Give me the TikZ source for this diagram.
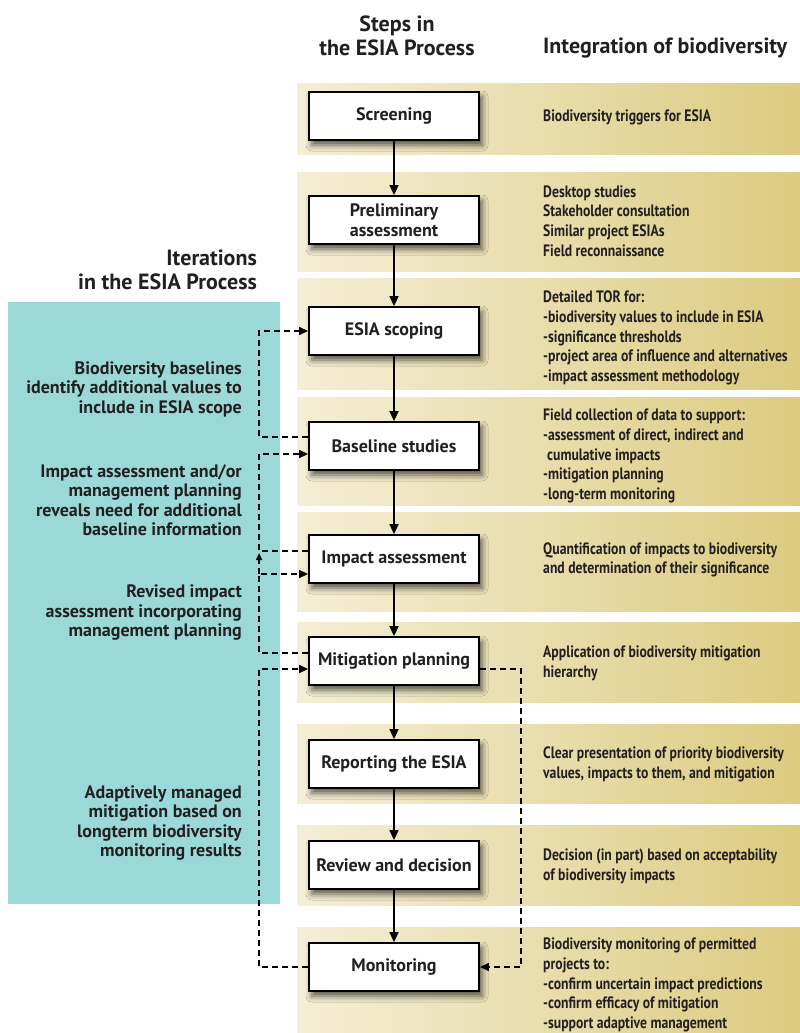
\documentclass[tikz,border=0pt]{standalone}
\usepackage{fontspec}
\setmainfont{PT Sans}
\newfontfamily\narrowfont{PT Sans}[FakeStretch=0.83]
\usetikzlibrary{arrows.meta,shadows.blur}
\definecolor{ink}{HTML}{231F20}
\definecolor{iterfill}{HTML}{9BD9D8}
\definecolor{bandlight}{HTML}{F4EED6}
\definecolor{banddark}{HTML}{DCCB80}
\begin{document}
\begin{tikzpicture}[x=1pt, y=-1pt,
                  stepbox/.style={draw=black, line width=1.8pt, fill=white, text=ink, align=center,
                                  minimum width=170pt, minimum height=48pt, inner sep=2pt,
                                  font=\fontsize{18}{20}\selectfont\bfseries,
                                  blur shadow={shadow xshift=3pt, shadow yshift=-5pt, shadow blur radius=6pt, shadow opacity=65}},
                  band/.style={left color=bandlight, right color=banddark},
                  bandtext/.style={anchor=west, align=left, inner sep=0pt, text=ink,
                                   font=\narrowfont\fontsize{16.5}{19.7}\selectfont\bfseries},
                  itertext/.style={anchor=east, align=right, inner sep=0pt, text=ink,
                                   font=\fontsize{18}{19.5}\selectfont\bfseries},
                  head/.style={inner sep=0pt, text=ink, font=\fontsize{22}{24.5}\selectfont\bfseries},
                  flow/.style={-{Triangle[length=10pt,width=9pt]}, line width=1.6pt},
                  iter/.style={-{Triangle[length=9pt,width=8pt]}, line width=1.4pt, dash pattern=on 6pt off 4pt}]
\useasboundingbox (0,0) rectangle (800,1033);
\foreach \a/\b in {83/154, 172/271, 278/389, 397/505, 512/611, 622/702, 724/803, 825/905, 927/1033}
   \shade[band] (297,\a) rectangle (800,\b);
\fill[iterfill] (8,302) rectangle (280,904);
\node[head, align=center] (steps) at (397,36) {Steps in\\the ESIA Process};
\node[head, anchor=west] (integ) at (543,48) {Integration of biodiversity};
\node[head, align=right, anchor=east] (iters) at (257,270) {Iterations\\in the ESIA Process};
\foreach \n/\y/\t in {b1/117/{Biodiversity triggers for ESIA},
                      b2/221/{Desktop studies\\Stakeholder consultation\\Similar project ESIAs\\Field reconnaissance},
                      b3/338/{Detailed TOR for:\\-biodiversity values to include in ESIA\\-significance thresholds\\-project area of influence and alternatives\\-impact assessment methodology},
                      b4/456/{Field collection of data to support:\\-assessment of direct, indirect and\\\hspace{4pt}cumulative impacts\\-mitigation planning\\-long-term monitoring},
                      b5/560/{Quantification of impacts to biodiversity\\and determination of their significance},
                      b6/663/{Application of biodiversity mitigation\\hierarchy},
                      b7/764/{Clear presentation of priority biodiversity\\values, impacts to them, and mitigation},
                      b8/866/{Decision (in part) based on acceptability\\of biodiversity impacts},
                      b9/985/{Biodiversity monitoring of permitted\\projects to:\\-confirm uncertain impact predictions\\-confirm efficacy of mitigation\\-support adaptive management}}
   \node[bandtext] (\n) at (543,\y) {\t};
\foreach \n/\y/\t in {i1/389/{Biodiversity baselines\\identify additional values to\\include in ESIA scope},
                      i2/500/{Impact assessment and/or\\management planning\\reveals need for additional\\baseline information},
                      i3/613/{Revised impact\\assessment incorporating\\management planning},
                      i4/823/{Adaptively managed\\mitigation based on\\longterm biodiversity\\monitoring results}}
   \node[itertext] (\n) at (242,\y) {\t};
\foreach \n/\y/\t in {scr/116/Screening, pre/220/{Preliminary\\assessment}, sco/331/ESIA scoping,
                      bas/446/Baseline studies, imp/559/Impact assessment, mit/661/Mitigation planning,
                      rep/764/Reporting the ESIA, rev/865/Review and decision, mon/967/Monitoring}
   \node[stepbox] (\n) at (394,\y) {\t};
\foreach \a/\b in {scr/pre, pre/sco, sco/bas, bas/imp, imp/mit, mit/rep, rep/rev, rev/mon}
   \draw[flow] (\a) -- (\b);
\draw[iter] ([yshift=9pt]bas.west) -- ++(-49,0) |- (sco.west);
\draw[iter] ([yshift=8pt]imp.west) -- ++(-49,0) |- ([yshift=-8pt]bas.west);
\draw[iter] ([yshift=8pt]mit.west) -- ++(-49,0) coordinate (m1) |- ([yshift=-15pt]imp.west) coordinate (i1);
\draw[iter, -{Triangle[length=7pt,width=6pt]}] (m1 |- i1) -- ++(0,-21);
\draw[iter] (mon.west) -- ++(-49,0) |- ([yshift=-8pt]mit.west);
\draw[iter] ([yshift=-8pt]mit.east) -- ++(41,0) |- (mon.east);
\end{tikzpicture}
\end{document}
